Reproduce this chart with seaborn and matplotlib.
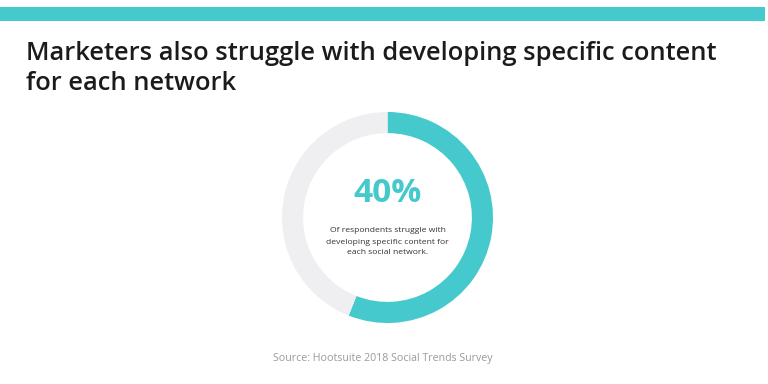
import matplotlib
matplotlib.use("Agg")
import matplotlib.pyplot as plt
from matplotlib.patches import Rectangle
import seaborn as sns

# data
segments = ["Struggle", "Other"]
arc_shares = [56, 44]          # drawn arc proportion as shown in the picture
headline = "40%"
title_lines = ["Marketers also struggle with developing specific content", "for each network"]
body_lines = ["Of respondents struggle with", "developing specific content for", "each social network."]
source = "Source: Hootsuite 2018 Social Trends Survey"

teal = "#45C9CD"
light = "#EFEFF1"

sns.set_theme(style="white")
plt.rcParams['font.family'] = ['Open Sans', 'DejaVu Sans']

W, H = 768, 384
fig = plt.figure(figsize=(W / 100, H / 100), dpi=100)
fig.patch.set_facecolor("white")

# top accent bar
fig.add_artist(Rectangle((0, 1 - 21 / H), 765 / W, 14 / H, transform=fig.transFigure,
                         facecolor=teal, edgecolor="none"))

# title
fig.text(26 / W, 1 - 60 / H, title_lines[0], fontsize=18.4, fontweight="semibold",
         color="#1b1b1b", va="baseline", ha="left")
fig.text(26 / W, 1 - 90 / H, title_lines[1], fontsize=18.4, fontweight="semibold",
         color="#1b1b1b", va="baseline", ha="left")

# donut
cx, cy, r = 387.5, 217.5, 105.5
ax = fig.add_axes([(cx - r) / W, (H - cy - r) / H, 2 * r / W, 2 * r / H])
ax.pie(arc_shares, colors=[teal, light], startangle=90, counterclock=False,
       radius=1.0, wedgeprops=dict(width=0.2, edgecolor="none", linewidth=0))
ax.set_xlim(-1, 1)
ax.set_ylim(-1, 1)
ax.set_aspect("equal")
ax.axis("off")

fig.text(cx / W, 1 - 193 / H, headline, fontsize=24, fontweight="bold", color=teal,
         ha="center", va="center")
for i, line in enumerate(body_lines):
    fig.text(cx / W, 1 - (231 + 11 * i) / H, line, fontsize=6.1, color="#333333",
             ha="center", va="center")

fig.text(382.5 / W, 1 - 358 / H, source, fontsize=7.7, color="#9a9a9a", ha="center", va="center")

fig.savefig("out.png", dpi=100, facecolor="white")
